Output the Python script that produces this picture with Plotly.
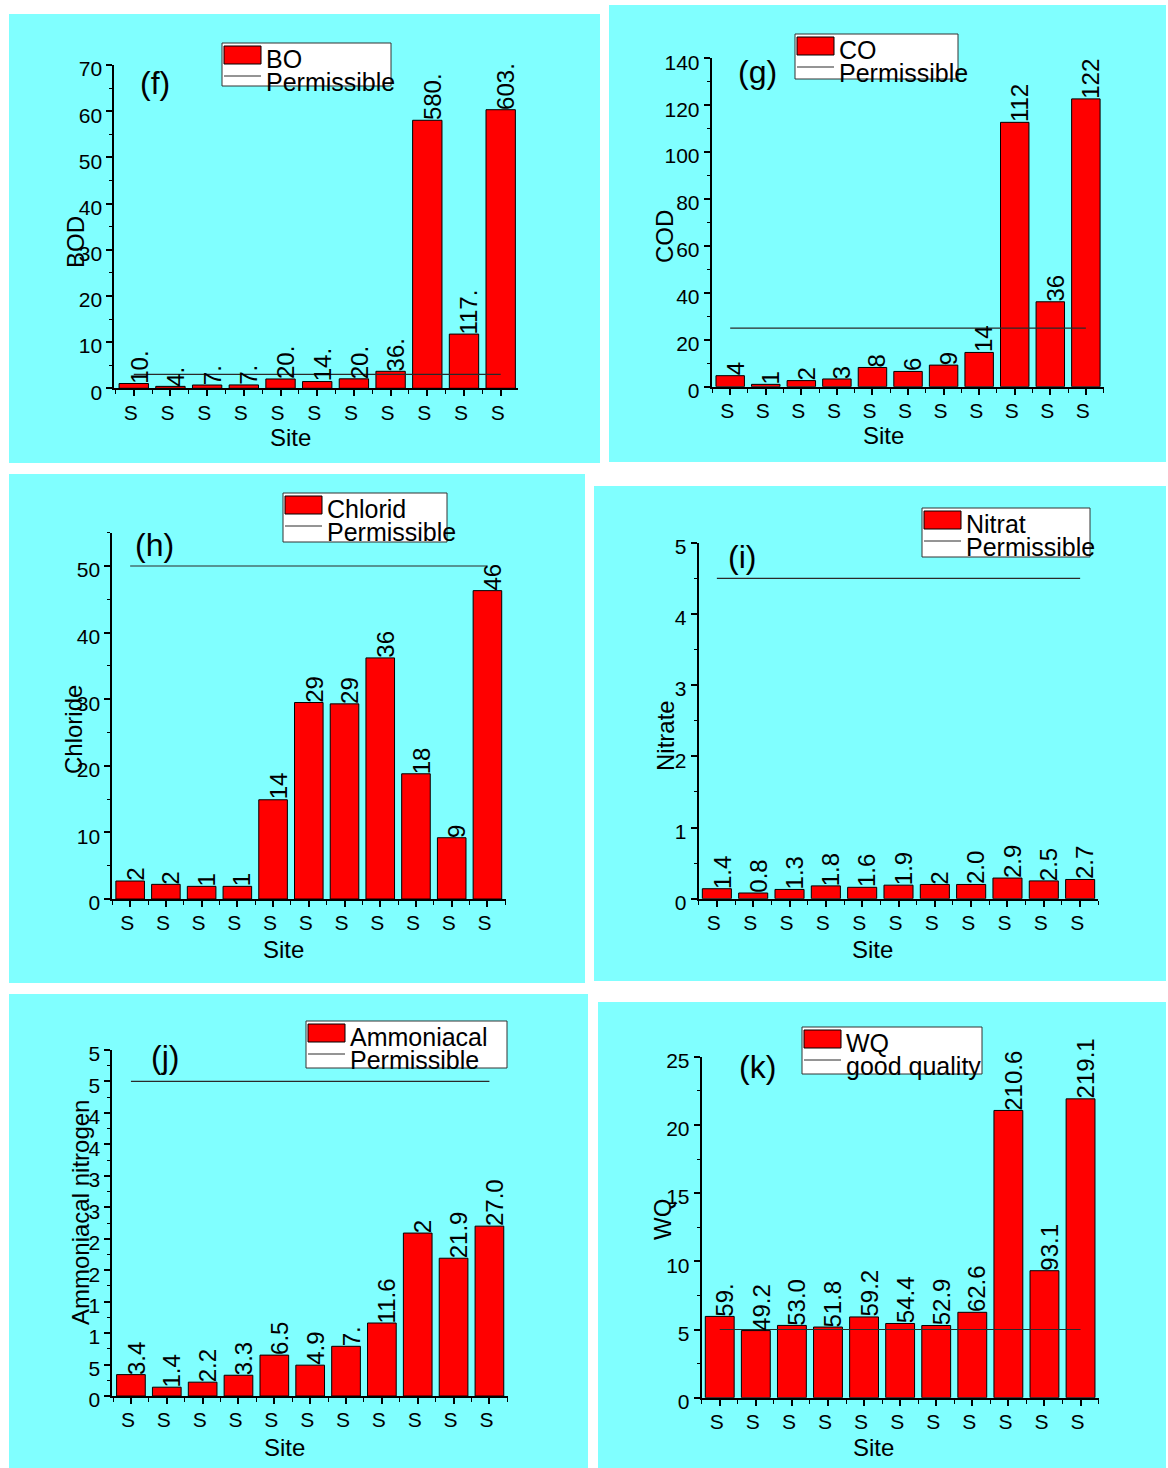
import plotly.graph_objects as go

W, H = 1168, 1468
FONT = "Liberation Sans, Arial, sans-serif"
CYAN = "#80FFFF"

# ---- data -------------------------------------------------------------
site_ticks = ["S", "S", "S", "S", "S", "S", "S", "S", "S", "S", "S"]

bod_values = [10.4, 4.2, 7.1, 7.3, 20.2, 14.6, 20.5, 36.8, 580.3, 117.4, 603.2]
bod_labels = ["10.", "4.", "7.", "7.", "20.", "14.", "20.", "36.", "580.", "117.", "603."]
bod_limit = 30
bod_tickvals = [0, 100, 200, 300, 400, 500, 600, 700]
bod_ticktext = ["0", "10", "20", "30", "40", "50", "60", "70"]

cod_values = [4.7, 1.0, 2.6, 3.3, 8.2, 6.5, 9.2, 14.6, 112.7, 36.2, 122.7]
cod_labels = ["4", "1", "2", "3", "8", "6", "9", "14", "112", "36", "122"]
cod_limit = 25
cod_tickvals = [0, 20, 40, 60, 80, 100, 120, 140]
cod_ticktext = ["0", "20", "40", "60", "80", "100", "120", "140"]

chloride_values = [2.7, 2.2, 1.9, 1.9, 14.9, 29.5, 29.3, 36.2, 18.8, 9.2, 46.3]
chloride_labels = ["2", "2", "1", "1", "14", "29", "29", "36", "18", "9", "46"]
chloride_limit = 50
chloride_tickvals = [0, 10, 20, 30, 40, 50]
chloride_ticktext = ["0", "10", "20", "30", "40", "50"]

nitrate_values = [1.4, 0.8, 1.3, 1.8, 1.6, 1.9, 2.0, 2.0, 2.9, 2.5, 2.7]
nitrate_labels = ["1.4", "0.8", "1.3", "1.8", "1.6", "1.9", "2", "2.0", "2.9", "2.5", "2.7"]
nitrate_limit = 45
nitrate_tickvals = [0, 10, 20, 30, 40, 50]
nitrate_ticktext = ["0", "1", "2", "3", "4", "5"]

ammonia_values = [3.4, 1.4, 2.2, 3.3, 6.5, 4.9, 7.9, 11.6, 25.9, 21.9, 27.0]
ammonia_labels = ["3.4", "1.4", "2.2", "3.3", "6.5", "4.9", "7.", "11.6", "2", "21.9", "27.0"]
ammonia_limit = 50
ammonia_tickvals = [0, 5, 10, 15, 20, 25, 30, 35, 40, 45, 50, 55]
ammonia_ticktext = ["0", "5", "1", "1", "2", "2", "3", "3", "4", "4", "5", "5"]

wqi_values = [59.6, 49.2, 53.0, 51.8, 59.2, 54.4, 52.9, 62.6, 210.6, 93.1, 219.1]
wqi_labels = ["59.", "49.2", "53.0", "51.8", "59.2", "54.4", "52.9", "62.6", "210.6", "93.1", "219.1"]
wqi_limit = 50
wqi_tickvals = [0, 50, 100, 150, 200, 250]
wqi_ticktext = ["0", "5", "10", "15", "20", "25"]

# ---- panel layout (pixel geometry) -------------------------------------
panels = [
    dict(tag="(f)", values=bod_values, labels=bod_labels, limit=bod_limit,
         tickvals=bod_tickvals, ticktext=bod_ticktext, yrange=[0, 700], minor=50,
         bg=(9, 14, 600, 463), plot=(114.3, 65, 518.3, 388.3), xrange=[-0.53, 10.48],
         ytitle="BOD", ytitle_xy=(75, 242), xtitle_xy=(290, 437), tag_xy=(155, 83),
         legend=(222, 43, 391, 86), names=("BO", "Permissible")),
    dict(tag="(g)", values=cod_values, labels=cod_labels, limit=cod_limit,
         tickvals=cod_tickvals, ticktext=cod_ticktext, yrange=[0, 140], minor=10,
         bg=(609, 5, 1166, 462), plot=(711.7, 58.3, 1104, 386.7), xrange=[-0.52, 10.51],
         ytitle="COD", ytitle_xy=(665, 237), xtitle_xy=(883, 435), tag_xy=(757, 72),
         legend=(795, 34, 958, 79), names=("CO", "Permissible")),
    dict(tag="(h)", values=chloride_values, labels=chloride_labels, limit=chloride_limit,
         tickvals=chloride_tickvals, ticktext=chloride_ticktext, yrange=[0, 55], minor=5,
         bg=(9, 474, 585, 983), plot=(112.3, 532.7, 506, 899), xrange=[-0.5, 10.52],
         ytitle="Chloride", ytitle_xy=(73, 730), xtitle_xy=(283, 950), tag_xy=(154, 545),
         legend=(283, 493, 447, 542), names=("Chlorid", "Permissible")),
    dict(tag="(i)", values=nitrate_values, labels=nitrate_labels, limit=nitrate_limit,
         tickvals=nitrate_tickvals, ticktext=nitrate_ticktext, yrange=[0, 50], minor=5,
         bg=(594, 486, 1166, 981), plot=(698.7, 542.7, 1098.3, 898.7), xrange=[-0.5, 10.5],
         ytitle="Nitrate", ytitle_xy=(665, 736), xtitle_xy=(872, 949), tag_xy=(742, 557),
         legend=(922, 508, 1090, 557), names=("Nitrat", "Permissible")),
    dict(tag="(j)", values=ammonia_values, labels=ammonia_labels, limit=ammonia_limit,
         tickvals=ammonia_tickvals, ticktext=ammonia_ticktext, yrange=[0, 55], minor=2.5,
         bg=(9, 994, 588, 1468), plot=(112.3, 1050, 507.7, 1396), xrange=[-0.52, 10.51],
         ytitle="Ammoniacal nitrogen", ytitle_xy=(80, 1213), xtitle_xy=(284, 1447), tag_xy=(165, 1057),
         legend=(306, 1021, 507, 1068), names=("Ammoniacal", "Permissible")),
    dict(tag="(k)", values=wqi_values, labels=wqi_labels, limit=wqi_limit,
         tickvals=wqi_tickvals, ticktext=wqi_ticktext, yrange=[0, 250], minor=25,
         bg=(598, 1002, 1166, 1468), plot=(701.7, 1056.7, 1099.3, 1397.7), xrange=[-0.5, 10.52],
         ytitle="WQ", ytitle_xy=(662, 1220), xtitle_xy=(873, 1447), tag_xy=(757, 1067),
         legend=(802, 1027, 982, 1074), names=("WQ", "good quality")),
]


def px(x):
    return x / W


def py(y):
    return 1 - y / H


fig = go.Figure()
shapes, annotations = [], []
layout_axes = {}

for k, p in enumerate(panels, start=1):
    xa = "x" if k == 1 else f"x{k}"
    ya = "y" if k == 1 else f"y{k}"
    sites = list(range(len(p["values"])))

    # cyan panel background
    x0, y0, x1, y1 = p["bg"]
    shapes.append(dict(type="rect", xref="paper", yref="paper", layer="below",
                       x0=px(x0), x1=px(x1), y0=py(y1), y1=py(y0),
                       fillcolor=CYAN, line=dict(width=0)))

    fig.add_trace(go.Bar(x=sites, y=p["values"], xaxis=xa, yaxis=ya, width=0.8,
                         name=p["names"][0], showlegend=False,
                         marker=dict(color="#FF0000", line=dict(color="#000000", width=1))))
    fig.add_trace(go.Scatter(x=[sites[0], sites[-1]], y=[p["limit"], p["limit"]],
                             xaxis=xa, yaxis=ya, mode="lines", name=p["names"][1],
                             showlegend=False, line=dict(color="#2a2a2a", width=1.2)))

    # value labels above the bars
    for s, v, lab in zip(sites, p["values"], p["labels"]):
        annotations.append(dict(x=s, y=v, xref=xa, yref=ya, text=lab, showarrow=False,
                                textangle=-90, xanchor="center", yanchor="bottom",
                                xshift=5, yshift=-1, borderpad=0,
                                font=dict(family=FONT, size=24, color="black")))

    gx0, gy0, gx1, gy1 = p["plot"]
    axis_common = dict(showline=True, linecolor="black", linewidth=2, showgrid=False,
                       zeroline=False, ticks="outside", tickcolor="black", tickwidth=1.5,
                       ticklen=6, tickfont=dict(family=FONT, size=21, color="black"),
                       fixedrange=True, automargin=False)
    layout_axes["xaxis" if k == 1 else f"xaxis{k}"] = dict(
        axis_common, domain=[px(gx0), px(gx1)], range=p["xrange"], anchor=ya,
        tickmode="array", tickvals=sites, ticktext=site_ticks,
        ticklabelstandoff=-2, ticklabelshift=-3,
        minor=dict(ticks="outside", ticklen=4, tickwidth=1.2, tickcolor="black",
                   tick0=0.5, dtick=1))
    layout_axes["yaxis" if k == 1 else f"yaxis{k}"] = dict(
        axis_common, domain=[py(gy1), py(gy0)], range=p["yrange"], anchor=xa,
        tickmode="array", tickvals=p["tickvals"], ticktext=p["ticktext"],
        ticklabelshift=4,
        minor=dict(ticks="outside", ticklen=3, tickwidth=1.2, tickcolor="black",
                   tick0=0, dtick=p["minor"]))

    # axis titles and panel tag
    tx, ty = p["ytitle_xy"]
    annotations.append(dict(x=px(tx), y=py(ty), xref="paper", yref="paper", text=p["ytitle"],
                            textangle=-90, showarrow=False, xanchor="center", yanchor="middle",
                            font=dict(family=FONT, size=24, color="black")))
    tx, ty = p["xtitle_xy"]
    annotations.append(dict(x=px(tx), y=py(ty), xref="paper", yref="paper", text="Site",
                            showarrow=False, xanchor="center", yanchor="middle",
                            font=dict(family=FONT, size=24, color="black")))
    tx, ty = p["tag_xy"]
    annotations.append(dict(x=px(tx), y=py(ty), xref="paper", yref="paper", text=p["tag"],
                            showarrow=False, xanchor="center", yanchor="middle",
                            font=dict(family=FONT, size=32, color="black")))

    # legend box: bar swatch + limit line
    lx0, ly0, lx1, ly1 = p["legend"]
    shapes.append(dict(type="rect", xref="paper", yref="paper", x0=px(lx0), x1=px(lx1),
                       y0=py(ly1), y1=py(ly0), fillcolor="white",
                       line=dict(color="#333333", width=1)))
    shapes.append(dict(type="rect", xref="paper", yref="paper", x0=px(lx0 + 2), x1=px(lx0 + 39),
                       y0=py(ly0 + 21), y1=py(ly0 + 3), fillcolor="#FF0000",
                       line=dict(color="#000000", width=1)))
    shapes.append(dict(type="line", xref="paper", yref="paper", x0=px(lx0 + 2), x1=px(lx0 + 39),
                       y0=py(ly0 + 33), y1=py(ly0 + 33), line=dict(color="#2a2a2a", width=1)))
    annotations.append(dict(x=px(lx0 + 43), y=py(ly0 + 16), xref="paper", yref="paper",
                            text=p["names"][0], showarrow=False, xanchor="left", yanchor="middle",
                            borderpad=0, font=dict(family=FONT, size=25, color="black")))
    annotations.append(dict(x=px(lx0 + 43), y=py(ly0 + 39), xref="paper", yref="paper",
                            text=p["names"][1], showarrow=False, xanchor="left", yanchor="middle",
                            borderpad=0, font=dict(family=FONT, size=25, color="black")))

fig.update_traces(selector=dict(type="bar"), cliponaxis=False)
fig.update_traces(selector=dict(type="scatter"), cliponaxis=False)

fig.update_layout(template="none", width=W, height=H,
                  margin=dict(l=0, r=0, t=0, b=0, pad=0, autoexpand=False),
                  paper_bgcolor="white", plot_bgcolor="rgba(0,0,0,0)",
                  showlegend=False, bargap=0.2, shapes=shapes, annotations=annotations,
                  font=dict(family=FONT, color="black"), **layout_axes)

fig.write_html("out.html", config=dict(displayModeBar=False))
